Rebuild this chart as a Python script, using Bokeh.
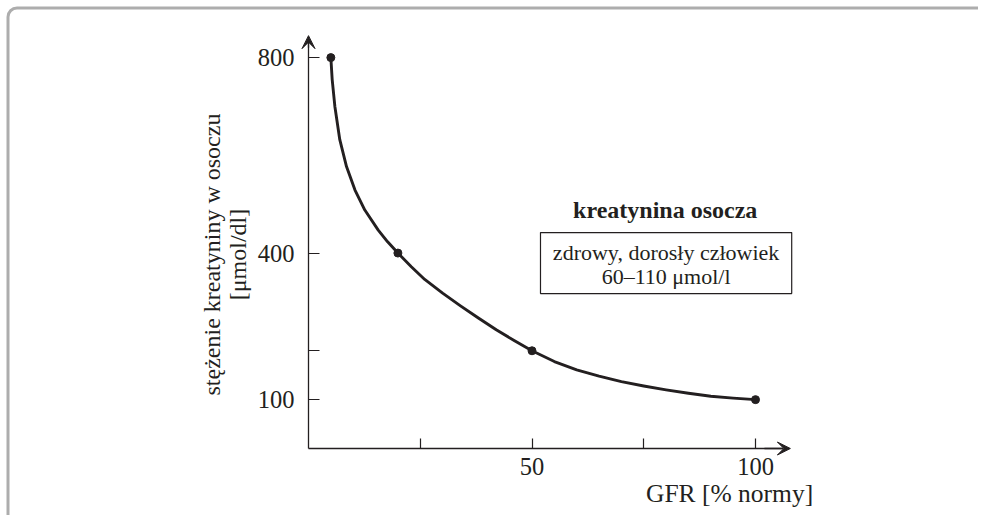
from math import pi
from bokeh.plotting import figure
from bokeh.models import Range1d, FixedTicker, Label, BoxAnnotation, Arrow, VeeHead, LinearAxis
from bokeh.embed import file_html
from bokeh.resources import INLINE

# curve (GFR % of norm vs plasma creatinine)
curve_gfr = [5.0, 5.3, 5.9, 7.0, 8.5, 10.4, 12.6, 15.6, 17.7, 20.0, 23.0, 26.0, 30.0, 34.0, 38.0,
             42.0, 46.0, 50.0, 55.0, 60.0, 65.0, 70.0, 75.0, 80.0, 85.0, 90.0, 95.0, 100.0]
curve_crea = [800, 755, 700, 632, 577, 529, 488, 447, 423, 400, 372, 346, 318, 292, 267,
              243, 221, 200, 178, 161, 148, 137, 128, 120, 113, 107, 103, 100]

# marked points
point_gfr = [5, 20, 50, 100]
point_crea = [800, 400, 200, 100]

x_ticks = [25, 50, 75, 100]
x_tick_labels = {25: "", 50: "50", 75: "", 100: "100"}
y_ticks = [100, 200, 400, 800]
y_tick_labels = {100: "100", 200: "", 400: "400", 800: "800"}

x_label = "GFR [% normy]"
y_label_1 = "stężenie kreatyniny w osoczu"
y_label_2 = "[μmol/dl]"
box_title = "kreatynina osocza"
box_line_1 = "zdrowy, dorosły człowiek"
box_line_2 = "60–110 μmol/l"

INK = "#231f20"
FONT = "Liberation Serif"

W, H = 978, 515
X0, SX = 308.0, 4.47      # pixel of x=0, px per unit
Y0, SY = 448.0, 0.4886    # pixel of y=0, px per unit

p = figure(width=W, height=H,
           x_range=Range1d(-X0 / SX, (W - X0) / SX),
           y_range=Range1d(-(H - Y0) / SY, Y0 / SY),
           x_axis_type=None, y_axis_type=None,
           output_backend="svg", toolbar_location=None,
           min_border=0, min_border_left=0, min_border_right=0,
           min_border_top=0, min_border_bottom=0)
p.grid.visible = False
p.outline_line_color = None
p.background_fill_color = "white"
p.border_fill_color = "white"

# frame border (top / left, rounded corner)
p.add_layout(BoxAnnotation(left=(7.5 - X0) / SX, right=(W + 40 - X0) / SX,
                           top=(Y0 - 7.5) / SY, bottom=-(H + 40 - Y0) / SY,
                           fill_color=None, line_color="#adadad", line_alpha=1.0, line_width=3,
                           border_radius=9))

xax = LinearAxis(fixed_location=0)
yax = LinearAxis(fixed_location=0)
p.add_layout(xax, "below")
p.add_layout(yax, "left")

for ax, ticks, labels, bnd in ((xax, x_ticks, x_tick_labels, (0, 106)),
                               (yax, y_ticks, y_tick_labels, (0, 835))):
    ax.ticker = FixedTicker(ticks=ticks)
    ax.major_label_overrides = labels
    ax.bounds = bnd
    ax.axis_line_color = INK
    ax.axis_line_width = 1.3
    ax.major_tick_line_color = INK
    ax.major_tick_line_width = 1.2
    ax.major_tick_out = 0
    ax.minor_tick_line_color = None
    ax.major_label_text_font = FONT
    ax.major_label_text_font_size = "24.5px"
    ax.major_label_text_color = INK

xax.major_tick_in = 10
xax.major_label_standoff = 9
yax.major_tick_in = 11
yax.major_label_standoff = 14

# arrow heads at axis ends
p.add_layout(Arrow(end=VeeHead(size=13, fill_color=INK, line_color=INK, line_width=1),
                   x_start=0, y_start=820, x_end=0, y_end=845, line_color=INK, line_width=1.3))
p.add_layout(Arrow(end=VeeHead(size=13, fill_color=INK, line_color=INK, line_width=1),
                   x_start=102, y_start=0, x_end=107.8, y_end=0, line_color=INK, line_width=1.3))

p.line(curve_gfr, curve_crea, line_color=INK, line_width=2.9, line_join="round", line_cap="round")
p.scatter(point_gfr, point_crea, size=8, fill_color=INK, line_color=INK)

# info box
p.add_layout(BoxAnnotation(left=51.9, right=108.1, bottom=317, top=442,
                           fill_color=None, line_color=INK, line_alpha=1.0, line_width=1.2))

def lab(txt, x, y, size, bold=False, angle=0):
    p.add_layout(Label(x=x, y=y, text=txt, text_font=FONT, text_font_size=size,
                       text_color=INK, text_align="center", text_baseline="middle",
                       text_font_style="bold" if bold else "normal", angle=angle))

lab(box_title, 79.8, 489, "24px", bold=True)
lab(box_line_1, 80.0, 401, "22px")
lab(box_line_2, 80.0, 352, "22px")
lab(x_label, 94.2, -92, "25.5px")
lab(y_label_1, -21.5, 397, "24px", angle=pi / 2)
lab(y_label_2, -15.7, 397, "24px", angle=pi / 2)

open("out.html", "w").write(file_html(p, INLINE))
